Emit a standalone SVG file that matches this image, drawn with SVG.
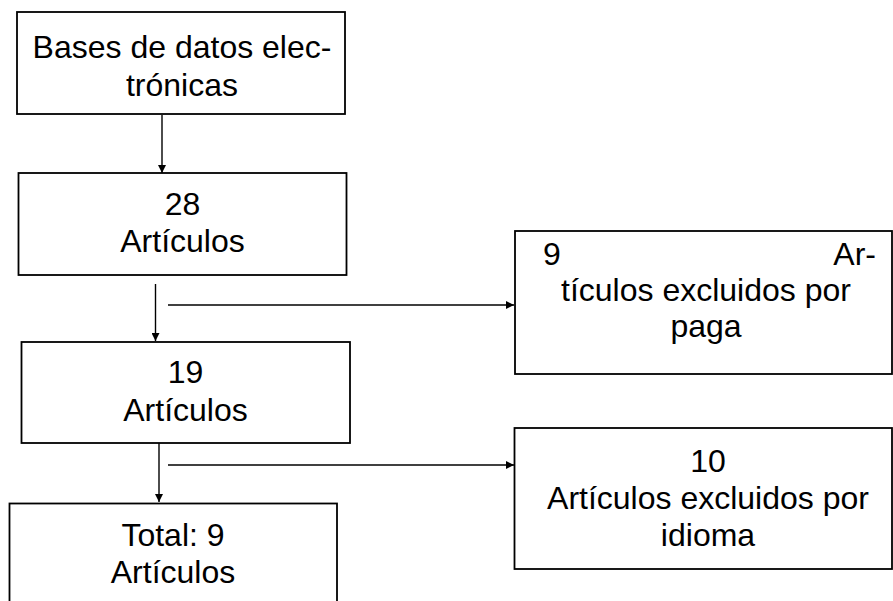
<svg xmlns="http://www.w3.org/2000/svg" width="893" height="601" viewBox="0 0 893 601">
<style>
.box{fill:#fff;stroke:#000;stroke-width:1.8}
.t{font-family:"Liberation Sans",Arial,sans-serif;font-size:32px;fill:#000;text-anchor:middle}
.c{stroke:#000;stroke-width:1.4;fill:none;marker-end:url(#ah)}
</style>
<defs>
<marker id="ah" markerUnits="userSpaceOnUse" markerWidth="9" markerHeight="8" refX="8" refY="4" orient="auto">
<path d="M0,0 L8,4 L0,8 z" fill="#000"/>
</marker>
</defs>
<rect width="893" height="601" fill="#fff"/>
<g id="n1">
<rect class="box" x="17" y="12" width="328" height="102"/>
<text class="t" x="182" y="58">Bases de datos elec-</text>
<text class="t" x="182" y="96">trónicas</text>
</g>
<g id="n2">
<rect class="box" x="18.5" y="173" width="328" height="102"/>
<text class="t" x="182.5" y="215">28</text>
<text class="t" x="182.5" y="252">Artículos</text>
</g>
<g id="n3">
<rect class="box" x="515" y="231" width="377" height="143"/>
<text class="t" x="543" y="265" style="text-anchor:start">9</text>
<text class="t" x="876" y="265" style="text-anchor:end">Ar-</text>
<text class="t" x="706" y="301">tículos excluidos por</text>
<text class="t" x="706" y="337">paga</text>
</g>
<g id="n4">
<rect class="box" x="21.5" y="342" width="328.5" height="101"/>
<text class="t" x="185.5" y="383">19</text>
<text class="t" x="185.5" y="421">Artículos</text>
</g>
<g id="n5">
<rect class="box" x="514.5" y="428" width="377.5" height="141"/>
<text class="t" x="708" y="472">10</text>
<text class="t" x="708" y="509">Artículos excluidos por</text>
<text class="t" x="708" y="546">idioma</text>
</g>
<g id="n6">
<rect class="box" x="9.5" y="503.5" width="327.5" height="110"/>
<text class="t" x="173" y="546">Total: 9</text>
<text class="t" x="173" y="583">Artículos</text>
</g>
<g id="connectors">
<line class="c" x1="162" y1="115" x2="162" y2="173"/>
<line class="c" x1="155.5" y1="284" x2="155.5" y2="341"/>
<line class="c" x1="168" y1="305" x2="514" y2="305"/>
<line class="c" x1="159" y1="443" x2="159" y2="502"/>
<line class="c" x1="168" y1="465" x2="514" y2="465"/>
</g>
</svg>
